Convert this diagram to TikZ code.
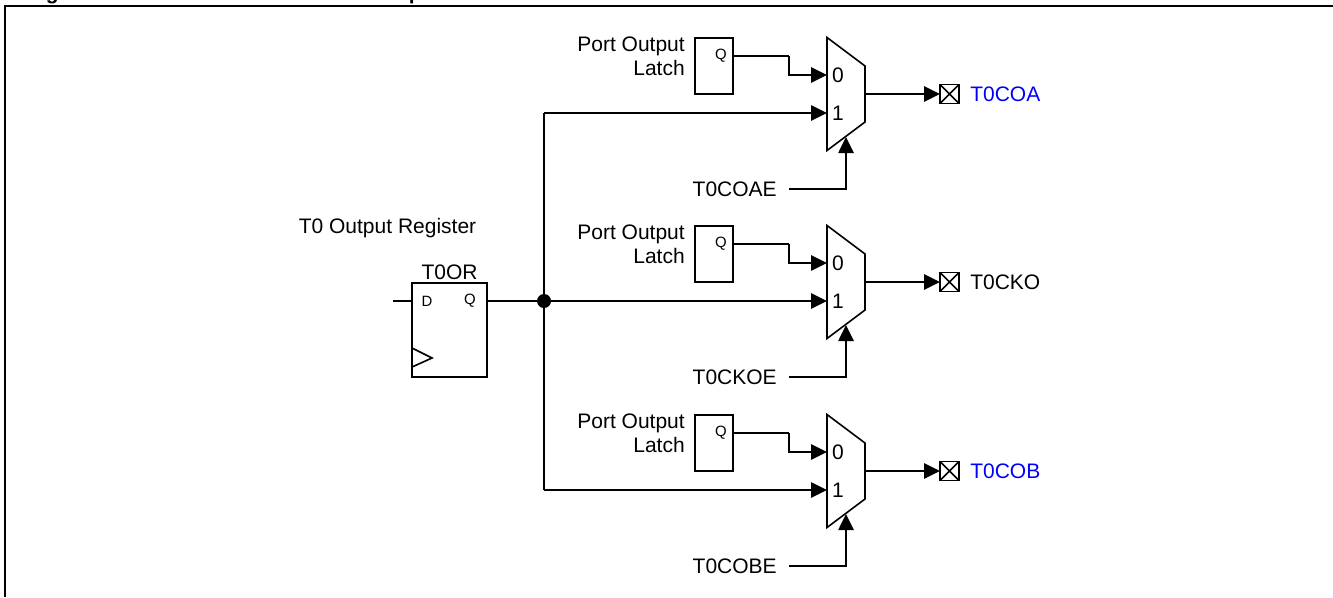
\documentclass[tikz,border=0pt]{standalone}
\usepackage{fontspec}
\setmainfont{Liberation Sans}
\usetikzlibrary{arrows.meta,positioning}
\definecolor{PinBlue}{HTML}{0000FF}

\begin{document}
\begin{tikzpicture}[
        x=0.75pt, y=-0.75pt,
        font=\fontsize{15.75}{18}\selectfont,
        node distance=7.5pt,
        label/.style={inner sep=0pt, align=right},
        pinlabel/.style={inner sep=0pt, anchor=west},
        small/.style={inner sep=0pt, font=\fontsize{11.2}{13}\selectfont},
        digit/.style={inner sep=0pt},
        latch/.style={draw, line width=1.2pt, minimum width=28.5pt, minimum height=42pt, inner sep=0pt, outer sep=0pt},
        ffbox/.style={draw, line width=1.2pt, minimum width=56.25pt, minimum height=70.5pt, inner sep=0pt, outer sep=0pt},
        mux/.style={minimum width=28.5pt, minimum height=84.75pt, inner sep=0pt, outer sep=0pt},
        pad/.style={draw, line width=1.2pt, minimum size=14.25pt, inner sep=0pt, outer sep=0pt,
          path picture={\draw[line width=1.1pt] (path picture bounding box.north west) -- (path picture bounding box.south east)
            (path picture bounding box.north east) -- (path picture bounding box.south west);}},
        wire/.style={line width=1.2pt},
        arrow/.style={line width=1.2pt, -{Triangle[length=12pt,width=11.5pt]}}
      ]
        \useasboundingbox (0,0) rectangle (1333,597);
        % frame and clipped caption
        \draw[line width=1.5pt] (5,597) -- (5,6) -- (1333,6);
        \node[inner sep=0pt, anchor=base west, font=\fontsize{15.75}{18}\selectfont\bfseries] (capnum) at (27,-0.5) {Figure};
        \node[inner sep=0pt, anchor=base west, font=\fontsize{15.75}{18}\selectfont\bfseries] (captitle) at (279,-0.5) {T0 Clock Output Control};

        % T0OR register
        \node[ffbox] (t0or) at (449.5,330) {};
        \node[label, above=2pt of t0or] (t0orname) {T0OR};
        \node[label] (regname) at (387.5,228) {T0 Output Register};
        \node[small] (ffd) at (427,301) {D};
        \node[small] (ffq) at (470,301) {Q};
        \coordinate (ffin) at (393,301);
        \draw[wire] (ffin) -- (ffin -| t0or.west);
        \draw[wire] (412,348) -- (432,358) -- (412,367);
        \node[circle, fill, inner sep=0pt, minimum size=10.5pt] (dot) at (544,301) {};
        \draw[wire] (ffq -| t0or.east) -- (dot);

        % top channel
        \node[mux] (muxA) at (846,94) {};
        \draw[wire] (muxA.north west) -- ++(38,28.5) -- ++(0,56) -- (muxA.south west) -- cycle;
        \coordinate (selA) at (846,137);
        \node[digit] (zeroA) at (838,75) {0};
        \node[digit] (oneA) at (838,113) {1};
        \node[latch] (latchA) at (714,66) {};
        \node[small] (qA) at (721,56) {Q};
        \node[label, left=of latchA.west, yshift=7pt] (portA) {Port Output\\Latch};
        \node[label, anchor=east] (enA) at (777,189) {T0COAE};
        \node[pad] (padA) at (949.5,94) {};
        \node[pinlabel, text=PinBlue] (nameA) at (970,94) {T0COA};
        \draw[wire] (qA -| latchA.east) -- ++(56,0) coordinate (bendA);
        \draw[arrow] (bendA) |- (zeroA -| muxA.west);
        \draw[arrow] (dot |- oneA) -- (oneA -| muxA.west);
        \draw[arrow] (789,189) -| (selA);
        \draw[arrow] (muxA.east) -- (padA.west);

        % middle channel
        \node[mux] (muxB) at (846,282) {};
        \draw[wire] (muxB.north west) -- ++(38,28.5) -- ++(0,56) -- (muxB.south west) -- cycle;
        \coordinate (selB) at (846,325);
        \node[digit] (zeroB) at (838,263) {0};
        \node[digit] (oneB) at (838,301) {1};
        \node[latch] (latchB) at (714,254) {};
        \node[small] (qB) at (721,244) {Q};
        \node[label, left=of latchB.west, yshift=7pt] (portB) {Port Output\\Latch};
        \node[label, anchor=east] (enB) at (777,377) {T0CKOE};
        \node[pad] (padB) at (949.5,282) {};
        \node[pinlabel] (nameB) at (970,282) {T0CKO};
        \draw[wire] (qB -| latchB.east) -- ++(56,0) coordinate (bendB);
        \draw[arrow] (bendB) |- (zeroB -| muxB.west);
        \draw[arrow] (dot) -- (oneB -| muxB.west);
        \draw[arrow] (789,377) -| (selB);
        \draw[arrow] (muxB.east) -- (padB.west);

        % bottom channel
        \node[mux] (muxC) at (846,471) {};
        \draw[wire] (muxC.north west) -- ++(38,28.5) -- ++(0,56) -- (muxC.south west) -- cycle;
        \coordinate (selC) at (846,514);
        \node[digit] (zeroC) at (838,452) {0};
        \node[digit] (oneC) at (838,490) {1};
        \node[latch] (latchC) at (714,443) {};
        \node[small] (qC) at (721,433) {Q};
        \node[label, left=of latchC.west, yshift=7pt] (portC) {Port Output\\Latch};
        \node[label, anchor=east] (enC) at (777,566) {T0COBE};
        \node[pad] (padC) at (949.5,471) {};
        \node[pinlabel, text=PinBlue] (nameC) at (970,471) {T0COB};
        \draw[wire] (qC -| latchC.east) -- ++(56,0) coordinate (bendC);
        \draw[arrow] (bendC) |- (zeroC -| muxC.west);
        \draw[arrow] (dot |- oneC) -- (oneC -| muxC.west);
        \draw[arrow] (789,566) -| (selC);
        \draw[arrow] (muxC.east) -- (padC.west);

        % bus
        \draw[wire] (dot |- oneA) -- (dot |- oneC);
      \end{tikzpicture}
\end{document}
